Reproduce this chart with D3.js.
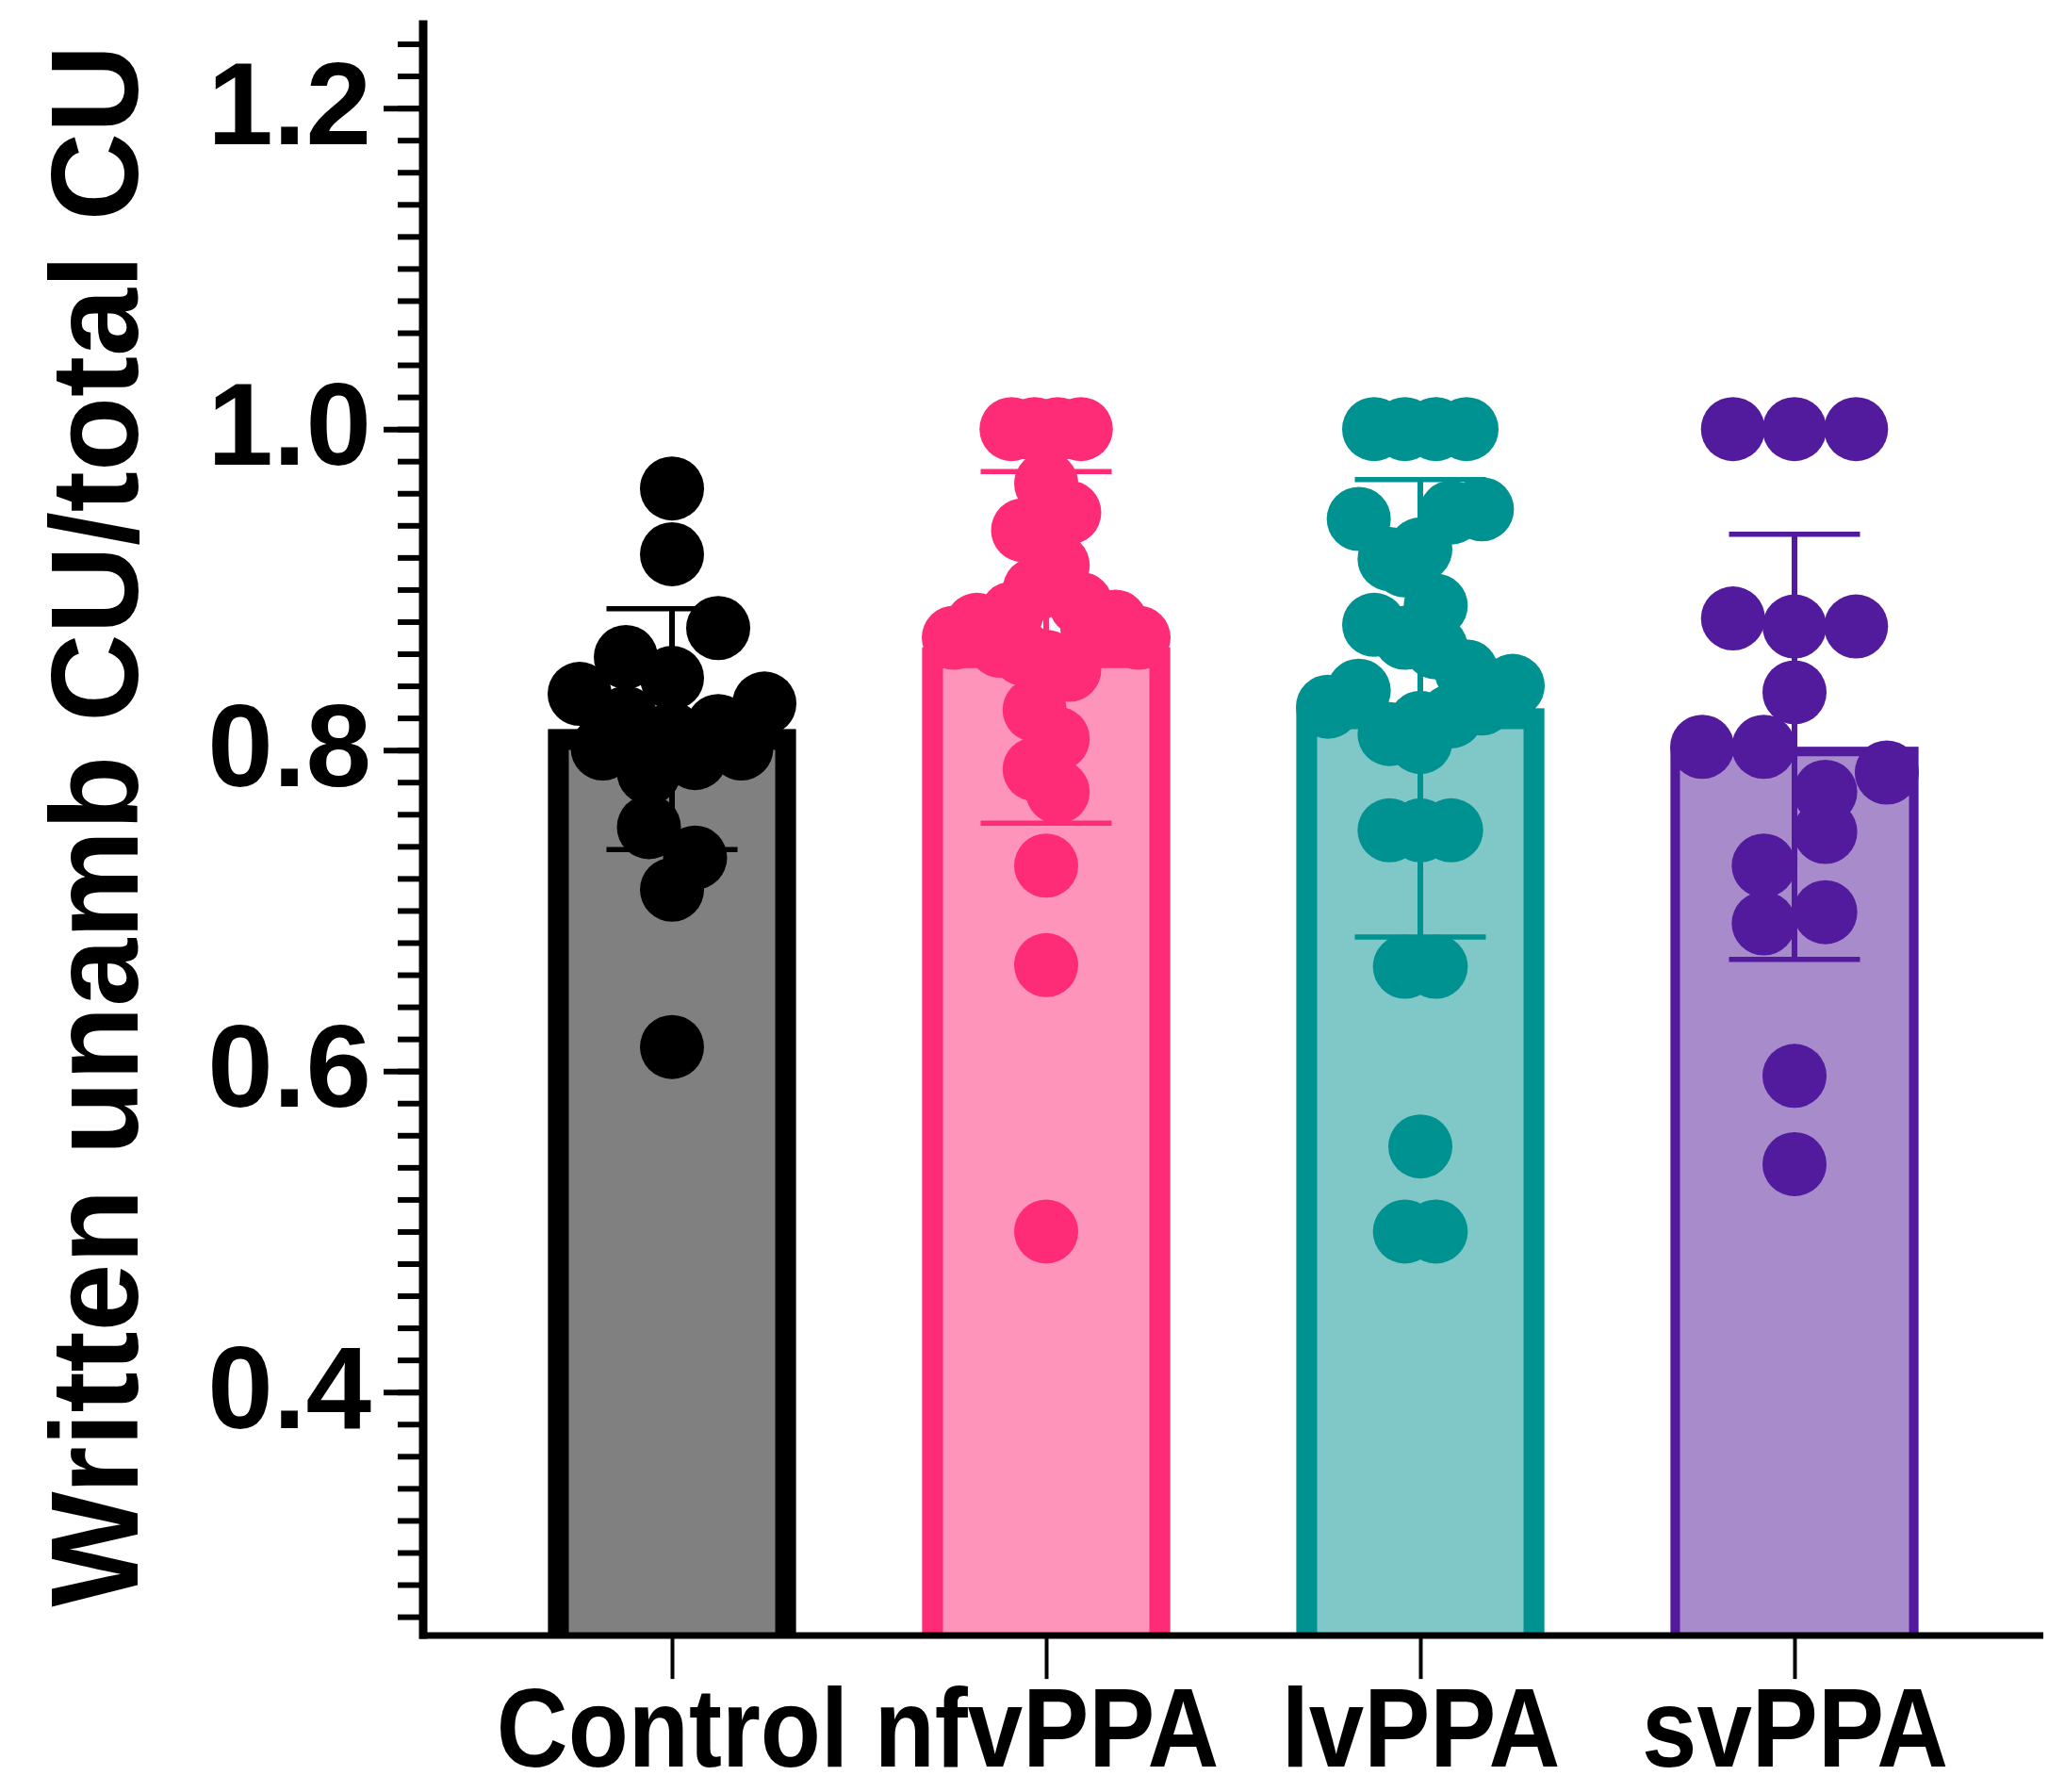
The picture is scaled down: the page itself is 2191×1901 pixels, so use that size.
<!DOCTYPE html>
<html><head><meta charset="utf-8">
<script src="https://cdn.jsdelivr.net/npm/d3@7"></script>
<style>body{margin:0;background:#fff}svg{display:block}</style>
</head><body>
<script>
// ---------- data ----------
const categories = ["Control", "nfvPPA", "lvPPA", "svPPA"];
const controlValues = [0.963, 0.922, 0.858, 0.845, 0.876, 0.835, 0.82, 0.81, 0.815, 0.829,
  0.801, 0.786, 0.795, 0.801, 0.752, 0.733, 0.713, 0.615];
const nfvValues = [1, 1, 1, 1, 0.937, 0.966, 0.948, 0.885, 0.90, 0.915, 0.891,
  0.87, 0.878, 0.865, 0.86, 0.855, 0.85, 0.875, 0.88, 0.87, 0.825, 0.807, 0.788, 0.774,
  0.728, 0.666, 0.50];
const lvValues = [1, 1, 1, 1, 0.944, 0.919, 0.925, 0.948, 0.95, 0.915, 0.89,
  0.878, 0.87, 0.864, 0.849, 0.827, 0.837, 0.81, 0.817, 0.821, 0.829, 0.84, 0.805,
  0.75, 0.75, 0.75, 0.665, 0.665, 0.553, 0.5, 0.5];
const svValues = [1, 1, 1, 0.882, 0.877, 0.877, 0.836, 0.802, 0.802, 0.774, 0.786,
  0.728, 0.749, 0.692, 0.699, 0.597, 0.542];
const groupMeans = [0.813, 0.864, 0.826, 0.802];
const groupSDs = [0.075, 0.1095, 0.1425, 0.1325];
const yTickValues = [0.4, 0.6, 0.8, 1.0, 1.2];
const yTickLabels = ["0.4", "0.6", "0.8", "1.0", "1.2"];
const yAxisTitle = "Written unamb CU/total CU";

// ---------- styles ----------
const lineColors = ["#000000", "#FE2C77", "#009191", "#521A9C"];
const fillColors = ["#808080", "#FF94BB", "#80C7C8", "#A88BCB"];
const barStroke = [22, 22, 22, 10];
const FONT = "'Liberation Sans', Arial, Helvetica, sans-serif";

const W = 2191, H = 1901;
const svg = d3.select("body").append("svg").attr("width", W).attr("height", H)
  .style("background", "#fff");

const y = d3.scaleLinear().domain([0.25, 1.25]).range([1732.1, 29.5]);
const x = d3.scalePoint().domain(categories).range([449, 2168]).padding(0.665);
const step = x.step();
const barW = step * 0.6625;
const yBase = y(0.25);
const axisY = yBase + 3;

const groups = [controlValues, nfvValues, lvValues, svValues];

// ---------- bars ----------
const gBars = svg.append("g");
categories.forEach((c, i) => {
  const cx = x(c), top = y(groupMeans[i]), sw = barStroke[i];
  gBars.append("rect")
    .attr("x", cx - barW / 2).attr("y", top)
    .attr("width", barW).attr("height", axisY - top)
    .attr("fill", fillColors[i]);
  const p = d3.path();
  p.moveTo(cx - barW / 2 + sw / 2, axisY);
  p.lineTo(cx - barW / 2 + sw / 2, top + sw / 2);
  p.lineTo(cx + barW / 2 - sw / 2, top + sw / 2);
  p.lineTo(cx + barW / 2 - sw / 2, axisY);
  gBars.append("path").attr("d", p.toString())
    .attr("fill", "none").attr("stroke", lineColors[i])
    .attr("stroke-width", sw).attr("stroke-linejoin", "miter");
});

// ---------- error bars ----------
const capW = 139;
const gErr = svg.append("g");
categories.forEach((c, i) => {
  const cx = x(c);
  const hi = y(groupMeans[i] + groupSDs[i]), lo = y(groupMeans[i] - groupSDs[i]);
  gErr.append("line").attr("x1", cx).attr("x2", cx).attr("y1", hi).attr("y2", lo)
    .attr("stroke", lineColors[i]).attr("stroke-width", 6);
  [hi, lo].forEach(v => gErr.append("line")
    .attr("x1", cx - capW / 2).attr("x2", cx + capW / 2).attr("y1", v).attr("y2", v)
    .attr("stroke", lineColors[i]).attr("stroke-width", 5.5));
});

// ---------- scatter dots (row-based swarm like the original software) ----------
const R = 34, D = 2 * R, maxSpan = 196;
function swarm(values) {
  const idx = values.map((v, i) => i).sort((a, b) => values[b] - values[a] || a - b);
  const rows = [];
  let cur = null;
  idx.forEach(k => {
    if (cur && Math.abs(y(values[k]) - y(values[cur[0]])) < 0.8 * D) cur.push(k);
    else { cur = [k]; rows.push(cur); }
  });
  const maxN = d3.max(rows, r => r.length);
  const s = maxN > 1 ? Math.min(0.96 * D, maxSpan / (maxN - 1)) : 0;
  const off = new Array(values.length).fill(0);
  rows.forEach(r => {
    r.slice().sort((a, b) => a - b).forEach((k, j) => { off[k] = (j - (r.length - 1) / 2) * s; });
  });
  return off;
}
const gDots = svg.append("g");
groups.forEach((vals, i) => {
  const off = swarm(vals);
  gDots.selectAll(null).data(vals).enter().append("circle")
    .attr("cx", (d, k) => x(categories[i]) + off[k])
    .attr("cy", d => y(d))
    .attr("r", R)
    .attr("fill", lineColors[i]);
});

// ---------- y axis ----------
const gy = svg.append("g").attr("transform", "translate(449,0)");
const minorVals = d3.range(13, 63).map(k => +(k * 0.02).toFixed(2));
gy.append("g").call(d3.axisLeft(y).tickValues(minorVals).tickSize(27).tickSizeOuter(0).tickFormat(""))
  .call(g => g.select(".domain").remove())
  .call(g => g.selectAll("line").attr("stroke", "#000").attr("stroke-width", 6));
gy.append("g").call(d3.axisLeft(y).tickValues(yTickValues).tickSize(42).tickSizeOuter(0).tickPadding(13)
    .tickFormat((d, k) => yTickLabels[k]))
  .call(g => g.select(".domain").remove())
  .call(g => g.selectAll("line").attr("stroke", "#000").attr("stroke-width", 6))
  .call(g => g.selectAll("text").attr("fill", "#000").attr("font-family", FONT)
    .attr("font-weight", "bold").attr("font-size", 125).attr("dy", "0.30em"));
svg.append("line").attr("x1", 449).attr("x2", 449).attr("y1", y(1.25) - 8).attr("y2", axisY + 3.5)
  .attr("stroke", "#000").attr("stroke-width", 9);

// ---------- x axis ----------
const gx = svg.append("g").attr("transform", `translate(0,${axisY})`);
gx.call(d3.axisBottom(x).tickSize(46).tickSizeOuter(0))
  .call(g => g.select(".domain").remove())
  .call(g => g.selectAll("line").attr("stroke", "#000").attr("stroke-width", 4))
  .call(g => g.selectAll("text").attr("fill", "#000").attr("font-family", FONT)
    .attr("font-weight", "bold").attr("font-size", 118).attr("y", 139).attr("dy", 0)
    .each(function () {
      const t = d3.select(this);
      const w = this.getComputedTextLength();
      t.attr("textLength", w * 0.89).attr("lengthAdjust", "spacingAndGlyphs");
    }));
svg.append("line").attr("x1", 445).attr("x2", 2168).attr("y1", axisY).attr("y2", axisY)
  .attr("stroke", "#000").attr("stroke-width", 7);

// ---------- y title ----------
svg.append("text")
  .attr("transform", "translate(146,876) rotate(-90)")
  .attr("text-anchor", "middle")
  .attr("font-family", FONT).attr("font-weight", "bold").attr("font-size", 132)
  .attr("textLength", 1657).attr("lengthAdjust", "spacingAndGlyphs")
  .attr("fill", "#000")
  .text(yAxisTitle);
</script>
</body></html>
